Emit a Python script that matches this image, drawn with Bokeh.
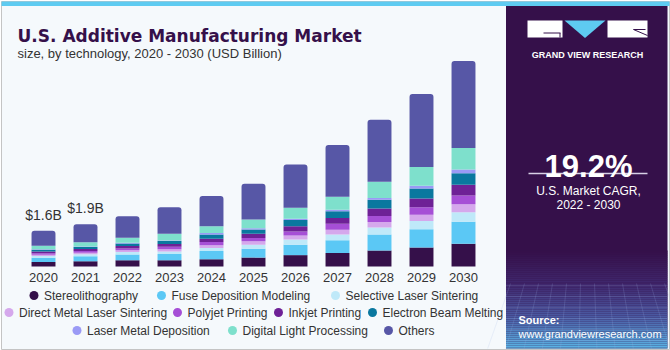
from bokeh.plotting import figure
from bokeh.models import Range1d, ColumnDataSource, Label
from bokeh.core.properties import value
from bokeh.embed import file_html
from bokeh.resources import INLINE

# ---------------- data ----------------
years = [2020, 2021, 2022, 2023, 2024, 2025, 2026, 2027, 2028, 2029, 2030]
year_labels = [str(y) for y in years]
series_names = ["Stereolithography", "Fuse Deposition Modeling", "Selective Laser Sintering",
                "Direct Metal Laser Sintering", "Polyjet Printing", "Inkjet Printing",
                "Electron Beam Melting", "Laser Metal Deposition", "Digital Light Processing", "Others"]
stereolithography = [0.20, 0.24, 0.28, 0.28, 0.33, 0.40, 0.51, 0.61, 0.72, 0.85, 1.02]
fuse_deposition = [0.19, 0.22, 0.26, 0.28, 0.36, 0.40, 0.46, 0.57, 0.72, 0.82, 0.99]
selective_laser = [0.08, 0.09, 0.11, 0.11, 0.14, 0.18, 0.24, 0.25, 0.31, 0.37, 0.42]
direct_metal = [0.06, 0.07, 0.08, 0.10, 0.12, 0.15, 0.18, 0.22, 0.24, 0.28, 0.36]
polyjet = [0.06, 0.07, 0.08, 0.12, 0.15, 0.15, 0.18, 0.27, 0.28, 0.34, 0.39]
inkjet = [0.08, 0.09, 0.11, 0.12, 0.15, 0.19, 0.24, 0.25, 0.33, 0.39, 0.49]
electron_beam = [0.08, 0.09, 0.11, 0.13, 0.19, 0.19, 0.27, 0.31, 0.39, 0.45, 0.51]
laser_metal = [0.02, 0.03, 0.03, 0.03, 0.06, 0.06, 0.06, 0.07, 0.08, 0.12, 0.17]
digital_light = [0.16, 0.19, 0.23, 0.30, 0.30, 0.39, 0.49, 0.58, 0.73, 0.84, 0.96]
others = [0.67, 0.81, 0.96, 1.19, 1.36, 1.60, 1.94, 2.32, 2.78, 3.27, 3.90]
value_labels = ["$1.6B", "$1.9B"]
cagr_text = "19.2%"

colors = ["#35104a", "#5bc8f5", "#bfe9f9", "#d5a8ec", "#a64fd6",
          "#6e2196", "#0a789f", "#9a9af5", "#7ee0cc", "#5757a6"]

series = [stereolithography, fuse_deposition, selective_laser, direct_metal, polyjet,
          inkjet, electron_beam, laser_metal, digital_light, others]
keys = ["s%d" % i for i in range(len(series))]
data = {"year": years, "label": year_labels}
for k, s in zip(keys, series):
    data[k] = s
totals = [round(sum(v), 2) for v in zip(*series)]
data["zero"] = [0] * len(years)
src = ColumnDataSource(data)

W, H = 670, 350
p = figure(width=W, height=H, output_backend="svg", toolbar_location=None,
           x_range=Range1d(0, W), y_range=Range1d(H, 0),
           x_axis_type=None, y_axis_type=None, min_border=0)
p.outline_line_color = None
p.background_fill_color = "#ffffff"
p.border_fill_color = "#ffffff"

# value / year scales placed inside the frame
base_px, px_per_b = 266.0, 22.3
x0_px, step_px = 43.0, 42.0
p.extra_x_ranges = {"yr": Range1d(years[0] - x0_px / step_px, years[0] + (W - x0_px) / step_px)}
p.extra_y_ranges = {"val": Range1d(-(H - base_px) / px_per_b, base_px / px_per_b)}

FONT = "Liberation Sans"

# ---------------- background panels ----------------
p.quad(left=[1], right=[669], top=[1], bottom=[349], fill_color="#f5f9fc",
       line_color="#c4c4c4", line_width=1)
p.quad(left=[1], right=[669], top=[1], bottom=[5.5], fill_color="#5ecbf1", line_color=None)
p.quad(left=[505.5], right=[667], top=[5.5], bottom=[348], fill_color="#35104a", line_color=None)

# bottom gradient of side panel
def lerp(c1, c2, t):
    a = [int(c1[i:i + 2], 16) for i in (1, 3, 5)]
    b = [int(c2[i:i + 2], 16) for i in (1, 3, 5)]
    return "#%02x%02x%02x" % tuple(int(round(a[i] + (b[i] - a[i]) * t)) for i in range(3))

stops = [(250, "#35104a"), (283, "#40286e"), (315, "#4a5aa2"), (348, "#5ab8e8")]
gl, gr, gt, gb, gc = [], [], [], [], []
for (ya, ca), (yb, cb) in zip(stops[:-1], stops[1:]):
    y = ya
    while y < yb:
        t = (y - ya) / (yb - ya)
        gl.append(505.5); gr.append(667); gt.append(y); gb.append(min(y + 2, yb))
        gc.append(lerp(ca, cb, t))
        y += 2
p.quad(left=gl, right=gr, top=gt, bottom=gb, fill_color=gc, line_color=None)
# faint grid lines in the bottom of the side panel
for i in range(6):
    yy = 285 + i * 11
    p.line([505.5, 667], [yy, yy], line_color="#9fb8e8", line_alpha=0.18, line_width=1)
for i in range(12):
    xx = 510 + i * 14
    p.line([xx, xx + (xx - 586) * 0.3], [283, 348], line_color="#9fb8e8", line_alpha=0.18, line_width=1)

# ---------------- logo ----------------
p.quad(left=[527], right=[562], top=[20], bottom=[37], fill_color="white", line_color=None)
p.line([543, 560], [32.5, 32.5], line_color="#35104a", line_width=1)
p.line([559.5, 559.5], [32.5, 37], line_color="#35104a", line_width=1)
p.patch([564, 605, 584.5], [20, 20, 37.5], fill_color="#5ecbf1", line_color=None)
p.quad(left=[607], right=[647], top=[20], bottom=[37], fill_color="white", line_color=None)
p.line([633, 647], [29, 35], line_color="#35104a", line_width=1)
p.line([633, 645], [29, 29], line_color="#35104a", line_width=1)
p.add_layout(Label(x=587, y=54, text="GRAND VIEW RESEARCH", text_font=FONT, text_font_style="bold",
                   text_font_size="9px", text_color="#ffffff", text_align="center",
                   text_baseline="alphabetic"))

# ---------------- side panel texts ----------------
p.add_layout(Label(x=588, y=166, text=cagr_text, text_font=FONT, text_font_style="bold",
                   text_font_size="31px", text_color="#ffffff", text_align="center",
                   text_baseline="alphabetic"))
p.line([528, 647], [173, 173], line_color="#d8d0e6", line_width=1.5)
p.add_layout(Label(x=588, y=190, text="U.S. Market CAGR,", text_font=FONT, text_font_size="12px",
                   text_color="#ffffff", text_align="center", text_baseline="alphabetic"))
p.add_layout(Label(x=588, y=204, text="2022 - 2030", text_font=FONT, text_font_size="12px",
                   text_color="#ffffff", text_align="center", text_baseline="alphabetic"))
p.add_layout(Label(x=518, y=319.5, text="Source:", text_font=FONT, text_font_style="bold",
                   text_font_size="11px", text_color="#ffffff", text_align="left",
                   text_baseline="alphabetic"))
p.add_layout(Label(x=518, y=333, text="www.grandviewresearch.com", text_font=FONT,
                   text_font_size="11px", text_color="#ffffff", text_align="left",
                   text_baseline="alphabetic"))

# ---------------- titles ----------------
p.add_layout(Label(x=17, y=35, text="U.S. Additive Manufacturing Market", text_font="DejaVu Sans",
                   text_font_style="bold", text_font_size="17px", text_color="#35104a",
                   text_baseline="alphabetic"))
p.add_layout(Label(x=17, y=52.5, text="size, by technology, 2020 - 2030 (USD Billion)",
                   text_font=FONT, text_font_size="13px", text_color="#333333",
                   text_baseline="alphabetic"))

# ---------------- stacked bars ----------------
rs = p.vbar_stack(keys, x="year", width=0.57, color=colors, source=src,
                  line_color=None, x_range_name="yr", y_range_name="val")
rs[-1].glyph.border_radius = {"top_left": 3, "top_right": 3, "bottom_right": 0, "bottom_left": 0}

# year labels
p.text(x="year", y="zero", text="label", source=src, x_range_name="yr", y_range_name="val",
       text_font=value(FONT), text_font_size="13px", text_color="#333333",
       text_align="center", text_baseline="middle", y_offset=11)

# value labels on first two bars
lab_src = ColumnDataSource({"x": years[:2], "y": totals[:2], "t": value_labels})
p.text(x="x", y="y", text="t", source=lab_src, x_range_name="yr", y_range_name="val",
       text_font=value(FONT), text_font_size="14px", text_color="#333333",
       text_align="center", text_baseline="middle", y_offset=-16)

# ---------------- legend ----------------
legend_x = [33.5, 161, 335, 8.5, 177, 278, 372, 76.5, 232, 388]
legend_y = [295, 295, 295, 312, 312, 312, 312, 330, 330, 330]
leg_src = ColumnDataSource({"x": legend_x, "y": legend_y, "c": colors, "name": series_names,
                            "tx": [v + 10 for v in legend_x]})
p.scatter(x="x", y="y", color="c", source=leg_src, size=9, marker="circle", line_color=None)
p.text(x="tx", y="y", text="name", source=leg_src, text_font=value(FONT), text_font_size="12px",
       text_color="#333333", text_align="left", text_baseline="middle")

open("out.html", "w").write(file_html(p, INLINE))
